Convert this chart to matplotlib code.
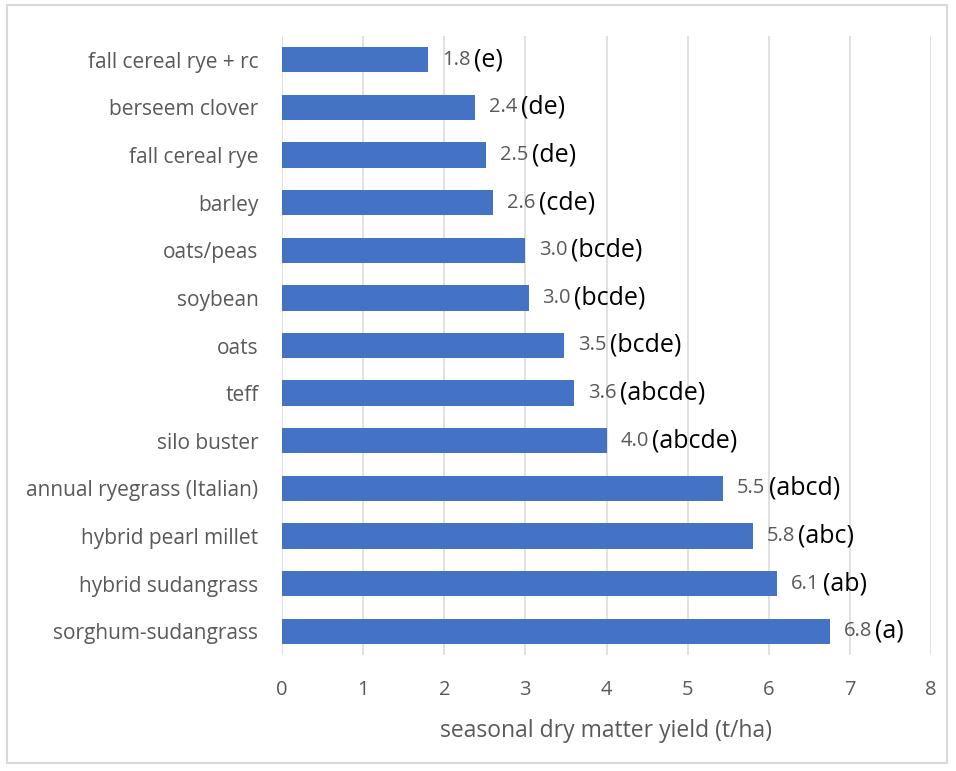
import matplotlib.pyplot as plt
from matplotlib.patches import Rectangle

plt.rcParams['font.family'] = ['Open Sans', 'DejaVu Sans']

crops = ['fall cereal rye + rc', 'berseem clover', 'fall cereal rye', 'barley',
         'oats/peas', 'soybean', 'oats', 'teff', 'silo buster',
         'annual ryegrass (Italian)', 'hybrid pearl millet', 'hybrid sudangrass',
         'sorghum-sudangrass']
yields = [1.8, 2.38, 2.52, 2.6, 3.0, 3.04, 3.48, 3.6, 4.0, 5.44, 5.8, 6.1, 6.75]
value_labels = ['1.8', '2.4', '2.5', '2.6', '3.0', '3.0', '3.5', '3.6', '4.0',
                '5.5', '5.8', '6.1', '6.8']
groups = ['(e)', '(de)', '(de)', '(cde)', '(bcde)', '(bcde)', '(bcde)', '(abcde)',
          '(abcde)', '(abcd)', '(abc)', '(ab)', '(a)']

fig = plt.figure(figsize=(9.56, 7.71), dpi=100)
ax = fig.add_axes([282/956, 1-655/771, (931-282)/956, (655-36)/771])

ypos = list(range(len(crops)))
ax.barh(ypos, yields, height=0.53, color='#4472C4', zorder=3)

ax.set_xlim(0, 8)
ax.set_ylim(len(crops) - 0.5, -0.5)
ax.set_xticks(range(0, 9))
ax.set_yticks(ypos)
ax.set_yticklabels(crops, fontsize=15)
ax.tick_params(axis='both', length=0, colors='#595959')
ax.tick_params(axis='x', labelsize=14.5, pad=18)
ax.tick_params(axis='y', pad=17)
ax.grid(axis='x', color='#d9d9d9', linewidth=1.1, zorder=0)
for s in ax.spines.values():
    s.set_visible(False)

ax.set_xlabel('seasonal dry matter yield (t/ha)', fontsize=16.5, color='#595959', labelpad=14)

for i in ypos:
    t = ax.annotate(value_labels[i], (yields[i], i), xytext=(10, 0), textcoords='offset points',
                    va='center', ha='left', fontsize=14.5, color='#595959', zorder=4)
    ax.annotate(groups[i], xy=(1, 0.5), xycoords=t, xytext=(2.5, 0), textcoords='offset points',
                va='center', ha='left', fontsize=18, color='black', zorder=4)

fig.patches.append(Rectangle((7/956, 1-763/771), 940/956, 758/771, transform=fig.transFigure,
                             fill=False, edgecolor='#d9d9d9', linewidth=1.5))

plt.savefig('out.png', dpi=100)
